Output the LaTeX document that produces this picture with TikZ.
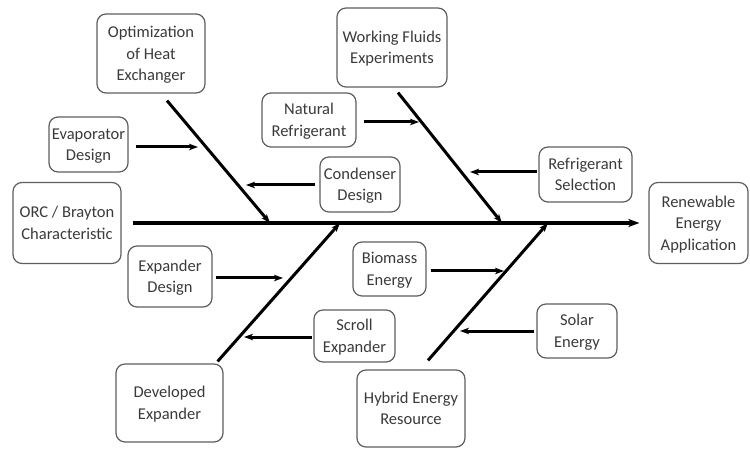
\documentclass[tikz,border=0pt]{standalone}
\usepackage{fontspec}
\setmainfont{Carlito}
\usetikzlibrary{arrows.meta,calc}
\definecolor{boxgray}{HTML}{5E5E5E}
\definecolor{txtgray}{HTML}{3A3A3A}
\begin{document}
\begin{tikzpicture}[x=1pt,y=-1pt,
  box/.style={draw=boxgray, line width=1.2pt, rounded corners=9pt, align=center,
    text=txtgray, inner sep=0pt, text depth=0pt, font=\fontsize{16.5}{21.5}\selectfont},
  spine/.style={line width=4pt, -{Stealth[length=11pt,width=8pt,inset=3pt]}},
  bone/.style={line width=3pt, -{Stealth[length=9pt,width=6.5pt,inset=2.5pt]}},
  feed/.style={line width=3pt, -{Stealth[length=9pt,width=6.5pt,inset=2.5pt]}}]
\useasboundingbox (0,0) rectangle (750,449);

% cause boxes
\node[box, minimum width=108pt, minimum height=79pt] (opt)    at (151,53.5)  {Optimization\\of Heat\\Exchanger};
\node[box, minimum width=110pt, minimum height=79pt] (wf)     at (392,47.5)  {Working Fluids\\Experiments};
\node[box, minimum width=94pt,  minimum height=54pt] (nat)    at (309,120)   {Natural\\Refrigerant};
\node[box, minimum width=79pt,  minimum height=55pt] (evap)   at (88.5,144.5){Evaporator\\Design};
\node[box, minimum width=80pt,  minimum height=55pt] (cond)   at (360,184.5) {Condenser\\Design};
\node[box, minimum width=93pt,  minimum height=55pt] (refsel) at (585.5,174.5){Refrigerant\\Selection};
\node[box, minimum width=108pt, minimum height=81pt] (orc)    at (67,223)    {ORC / Brayton\\Characteristic};
\node[box, minimum width=99pt,  minimum height=81pt] (ren)    at (698.5,223) {Renewable\\Energy\\Application};
\node[box, minimum width=84pt,  minimum height=61pt] (expd)   at (170,276.5) {Expander\\Design};
\node[box, minimum width=73pt,  minimum height=54pt] (bio)    at (389.5,269) {Biomass\\Energy};
\node[box, minimum width=81pt,  minimum height=52pt] (scroll) at (354.5,336) {Scroll\\Expander};
\node[box, minimum width=80pt,  minimum height=54pt] (solar)  at (577,331)   {Solar\\Energy};
\node[box, minimum width=107pt, minimum height=78pt] (dev)    at (169.5,403) {Developed\\Expander};
\node[box, minimum width=108pt, minimum height=77pt] (hyb)    at (411,408.5) {Hybrid Energy\\Resource};

% main spine
\draw[spine, shorten <=11pt, shorten >=9pt] (orc) -- (ren);

% bone junctions on the spine
\coordinate (j1) at (270,223);
\coordinate (j2) at (502,223);
\coordinate (j3) at (340,223);
\coordinate (j4) at (548,223);

% bones
\draw[bone] ([shift={(16,7)}]opt.south) -- (j1);
\draw[bone] ([shift={(6,5)}]wf.south) -- (j2);
\draw[bone] ([shift={(-6,-2)}]dev.north east) -- (j3);
\draw[bone] ([shift={(17,-9)}]hyb.north) -- (j4);

% feeder tips on the bones
\coordinate (f1) at (198,147);
\coordinate (f2) at (246,185);
\coordinate (f3) at (419,122);
\coordinate (f4) at (470,172);
\coordinate (f5) at (283,278);
\coordinate (f6) at (244,337);
\coordinate (f7) at (504,271);
\coordinate (f8) at (460,331);

% feeders
\draw[feed, shorten <=7pt] (evap.east |- f1) -- (f1);
\draw[feed, shorten <=4pt] (cond.west |- f2) -- (f2);
\draw[feed, shorten <=7pt] (nat.east |- f3) -- (f3);
\draw[feed, shorten <=1pt] (refsel.west |- f4) -- (f4);
\draw[feed, shorten <=3pt] (expd.east |- f5) -- (f5);
\draw[feed, shorten <=1pt] (scroll.west |- f6) -- (f6);
\draw[feed, shorten <=4pt] (bio.east |- f7) -- (f7);
\draw[feed, shorten <=2pt] (solar.west |- f8) -- (f8);
\end{tikzpicture}
\end{document}
